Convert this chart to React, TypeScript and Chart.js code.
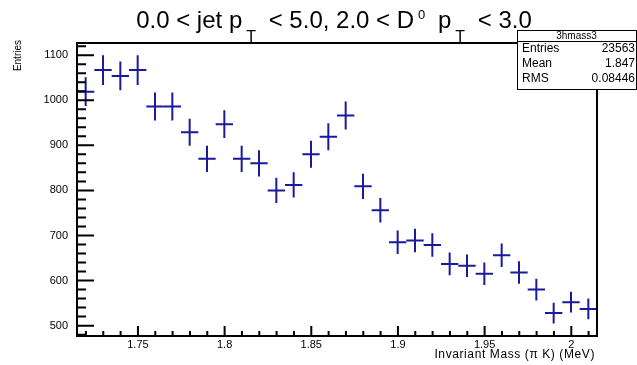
import React, { useEffect, useRef } from 'react';
import { Chart, registerables } from 'chart.js';

Chart.register(...registerables);

// ---- data ----
const binLow = 1.71484;
const binWidth = 0.01;
const counts = [1019, 1067, 1054, 1067, 986, 986, 929, 870, 947, 870, 860, 800, 812, 880, 919, 966, 809, 756, 685, 689, 679, 637, 633, 615, 656, 618, 580, 528, 552, 537];
const errors = [32, 33, 32, 33, 31, 31, 30, 29, 31, 29, 29, 28, 28, 30, 30, 31, 28, 27, 26, 26, 26, 25, 25, 25, 26, 25, 24, 23, 23, 23];
const xMin = 1.71484;
const xMax = 2.01484;
const yMin = 477;
const yMax = 1127;
const xTickValues = [1.75, 1.8, 1.85, 1.9, 1.95, 2.0];
const yTickValues = [500, 600, 700, 800, 900, 1000, 1100];
const yMajorStep = 100;
const yMinorStep = 20;
const titleSegments = [
  { text: '0.0 < jet p', kind: 'main' },
  { text: 'T', kind: 'sub' },
  { text: ' < 5.0, 2.0 < D', kind: 'main' },
  { text: '0', kind: 'sup' },
  { text: ' p', kind: 'main' },
  { text: 'T', kind: 'sub' },
  { text: ' < 3.0', kind: 'main' },
];
const statsTitle = '3hmass3';
const statsLabels = ['Entries', 'Mean', 'RMS'];
const statsValues = ['23563', '1.847', '0.08446'];
const xTitle = 'Invariant Mass (\u03C0 K) (MeV)';
const yTitle = 'Entries';

const COLOR = '#1a1a9c';
const FONT = "'Liberation Sans', Arial, Helvetica, sans-serif";

const rootPlugin = {
  id: 'rootStyle',
  afterDatasetsDraw(chart: any) {
    const ctx = chart.ctx;
    const xs = chart.scales.x;
    const ys = chart.scales.y;
    const ca = chart.chartArea;
    ctx.save();
    // error bar crosses
    ctx.strokeStyle = COLOR;
    ctx.lineWidth = 2;
    ctx.lineCap = 'butt';
    const pts = chart.data.datasets[0].data;
    pts.forEach((p: any, i: number) => {
      const x0 = xs.getPixelForValue(p.x - binWidth / 2);
      const x1 = xs.getPixelForValue(p.x + binWidth / 2);
      const xc = xs.getPixelForValue(p.x);
      const yc = ys.getPixelForValue(p.y);
      const ylo = ys.getPixelForValue(p.y - errors[i]);
      const yhi = ys.getPixelForValue(p.y + errors[i]);
      ctx.beginPath();
      ctx.moveTo(x0, yc);
      ctx.lineTo(x1, yc);
      ctx.moveTo(xc, ylo);
      ctx.lineTo(xc, yhi);
      ctx.stroke();
    });

    // frame
    ctx.strokeStyle = '#000';
    ctx.lineWidth = 2;
    ctx.strokeRect(ca.left, ca.top, ca.right - ca.left, ca.bottom - ca.top);

    // y ticks (inward)
    ctx.beginPath();
    for (let k = Math.ceil(yMin / yMinorStep); k <= Math.floor(yMax / yMinorStep); k++) {
      const v = k * yMinorStep;
      const major = v % yMajorStep === 0;
      const py = ys.getPixelForValue(v);
      ctx.moveTo(ca.left, py);
      ctx.lineTo(ca.left + (major ? 17 : 9), py);
    }
    // x ticks (inward)
    for (let k = Math.ceil(xMin * 100 - 1e-6); k <= Math.floor(xMax * 100 + 1e-6); k++) {
      const v = k / 100;
      const major = k % 5 === 0;
      const px = xs.getPixelForValue(v);
      ctx.moveTo(px, ca.bottom);
      ctx.lineTo(px, ca.bottom - (major ? 10 : 5));
    }
    ctx.stroke();
    ctx.restore();
  },
  afterDraw(chart: any) {
    const ctx = chart.ctx;
    const ca = chart.chartArea;
    ctx.save();
    ctx.fillStyle = '#000';

    // title with sub/superscripts
    const sizes: any = { main: 24, sub: 16, sup: 13 };
    const dys: any = { main: 0, sub: 14, sup: -9.5 };
    const gapBefore: any = { main: 0, sub: 4, sup: 4 };
    const gapAfter: any = { main: 0, sub: 6, sup: 6 };
    let total = 0;
    const widths: number[] = [];
    titleSegments.forEach((s) => {
      ctx.font = `${sizes[s.kind]}px ${FONT}`;
      const w = ctx.measureText(s.text).width;
      widths.push(w);
      total += gapBefore[s.kind] + w + gapAfter[s.kind];
    });
    let x = 334 - total / 2;
    const base = 28;
    ctx.textBaseline = 'alphabetic';
    ctx.textAlign = 'left';
    titleSegments.forEach((s, i) => {
      ctx.font = `${sizes[s.kind]}px ${FONT}`;
      x += gapBefore[s.kind];
      ctx.fillText(s.text, x, base + dys[s.kind]);
      x += widths[i] + gapAfter[s.kind];
    });

    // stats box
    const bx0 = 517, by0 = 30, bx1 = 636, by1 = 89;
    ctx.fillStyle = '#fff';
    ctx.fillRect(bx0, by0, bx1 - bx0, by1 - by0);
    ctx.strokeStyle = '#000';
    ctx.lineWidth = 1;
    ctx.strokeRect(bx0 + 0.5, by0 + 0.5, bx1 - bx0, by1 - by0);
    ctx.beginPath();
    ctx.moveTo(bx0, 41.5);
    ctx.lineTo(bx1 + 1, 41.5);
    ctx.stroke();
    ctx.fillStyle = '#000';
    ctx.font = `10px ${FONT}`;
    ctx.textAlign = 'center';
    ctx.textBaseline = 'middle';
    ctx.fillText(statsTitle, (bx0 + bx1) / 2, 36);
    ctx.font = `12px ${FONT}`;
    const rowY = [49, 64, 79];
    statsLabels.forEach((l, i) => {
      ctx.textAlign = 'left';
      ctx.fillText(l, bx0 + 5, rowY[i]);
      ctx.textAlign = 'right';
      ctx.fillText(statsValues[i], bx1 - 1, rowY[i]);
    });

    // x axis title
    ctx.font = `12px ${FONT}`;
    ctx.textAlign = 'right';
    ctx.textBaseline = 'middle';
    try { (ctx as any).letterSpacing = '0.6px'; } catch (e) {}
    ctx.fillText(xTitle, ca.right - 2, 355);
    try { (ctx as any).letterSpacing = '0px'; } catch (e) {}

    // y axis title
    ctx.save();
    ctx.translate(18, ca.top - 3);
    ctx.rotate(-Math.PI / 2);
    ctx.font = `10px ${FONT}`;
    ctx.textAlign = 'right';
    ctx.textBaseline = 'middle';
    ctx.fillText(yTitle, 0, 0);
    ctx.restore();

    ctx.restore();
  },
};

export default function App() {
  const ref = useRef<HTMLCanvasElement | null>(null);
  useEffect(() => {
    const prevMargin = document.body.style.margin;
    document.body.style.margin = '0';
    Chart.defaults.font.family = FONT;
    Chart.defaults.color = '#000';
    const canvas = ref.current!;
    const chart = new Chart(canvas, {
      type: 'scatter',
      data: {
        datasets: [
          {
            data: counts.map((c, i) => ({ x: binLow + binWidth * (i + 0.5), y: c })),
            pointRadius: 0,
            showLine: false,
            borderColor: COLOR,
            backgroundColor: COLOR,
          },
        ],
      },
      options: {
        animation: false,
        responsive: false,
        maintainAspectRatio: false,
        devicePixelRatio: 1,
        layout: { padding: { top: 43, right: 40, left: 0, bottom: 0 } },
        plugins: {
          legend: { display: false },
          tooltip: { enabled: false },
          title: { display: false },
        },
        scales: {
          x: {
            type: 'linear',
            min: xMin,
            max: xMax,
            grid: { display: false, drawTicks: false },
            border: { display: false },
            afterBuildTicks: (s: any) => {
              s.ticks = xTickValues.map((v) => ({ value: v }));
            },
            ticks: {
              autoSkip: false,
              maxRotation: 0,
              minRotation: 0,
              padding: 2,
              color: '#000',
              font: { size: 11, family: FONT },
              callback: (v: any) => String(parseFloat(Number(v).toFixed(2))),
            },
            afterFit: (s: any) => {
              s.height = 29;
            },
          },
          y: {
            type: 'linear',
            min: yMin,
            max: yMax,
            grid: { display: false, drawTicks: false },
            border: { display: false },
            afterBuildTicks: (s: any) => {
              s.ticks = yTickValues.map((v) => ({ value: v }));
            },
            ticks: {
              autoSkip: false,
              padding: 9,
              color: '#000',
              font: { size: 11, family: FONT },
              callback: (v: any) => String(Math.round(Number(v))),
            },
            afterFit: (s: any) => {
              s.width = 77;
            },
          },
        },
      } as any,
      plugins: [rootPlugin],
    });
    return () => {
      chart.destroy();
      document.body.style.margin = prevMargin;
    };
  }, []);
  return (
    <div style={{ position: 'fixed', left: 0, top: 0, width: 637, height: 365, background: '#fff' }}>
      <canvas ref={ref} width={637} height={365} style={{ display: 'block', width: 637, height: 365 }} />
    </div>
  );
}
